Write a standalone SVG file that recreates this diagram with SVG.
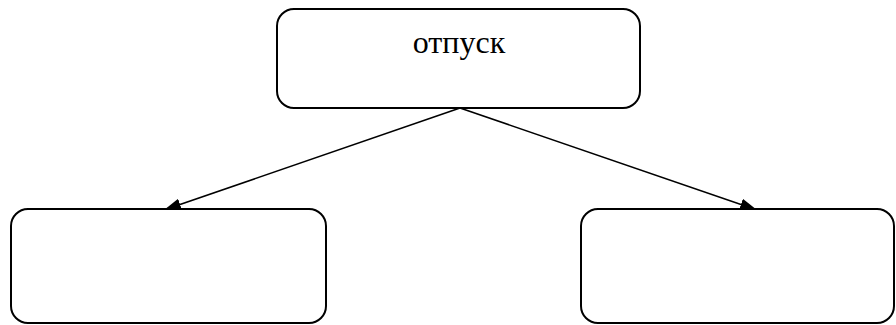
<svg xmlns="http://www.w3.org/2000/svg" width="896" height="325" viewBox="0 0 896 325">
<defs>
<style>
.box{fill:#fff;stroke:#000;stroke-width:2}
.con{stroke:#000;stroke-width:1.6;fill:none}
.lbl{font-family:"Liberation Serif","Times New Roman",serif;font-size:32px;fill:#000;text-anchor:middle}
</style>
<marker id="ah" viewBox="0 0 10 10" refX="10" refY="5" markerWidth="17" markerHeight="12" markerUnits="userSpaceOnUse" orient="auto" preserveAspectRatio="none">
<path d="M0,0 L10,5 L0,10 z" fill="#000"/>
</marker>
</defs>
<rect width="896" height="325" fill="#fff"/>
<g id="connectors">
<line class="con" x1="460" y1="108" x2="164" y2="210" marker-end="url(#ah)"/>
<line class="con" x1="460" y1="108" x2="757" y2="210" marker-end="url(#ah)"/>
</g>
<g id="node-top">
<rect class="box" x="277" y="9" width="363" height="99" rx="17"/>
<text class="lbl" x="459" y="53">отпуск</text>
</g>
<g id="node-left">
<rect class="box" x="11" y="209" width="315" height="114" rx="17"/>
</g>
<g id="node-right">
<rect class="box" x="581" y="209" width="313" height="114" rx="17"/>
</g>
</svg>
